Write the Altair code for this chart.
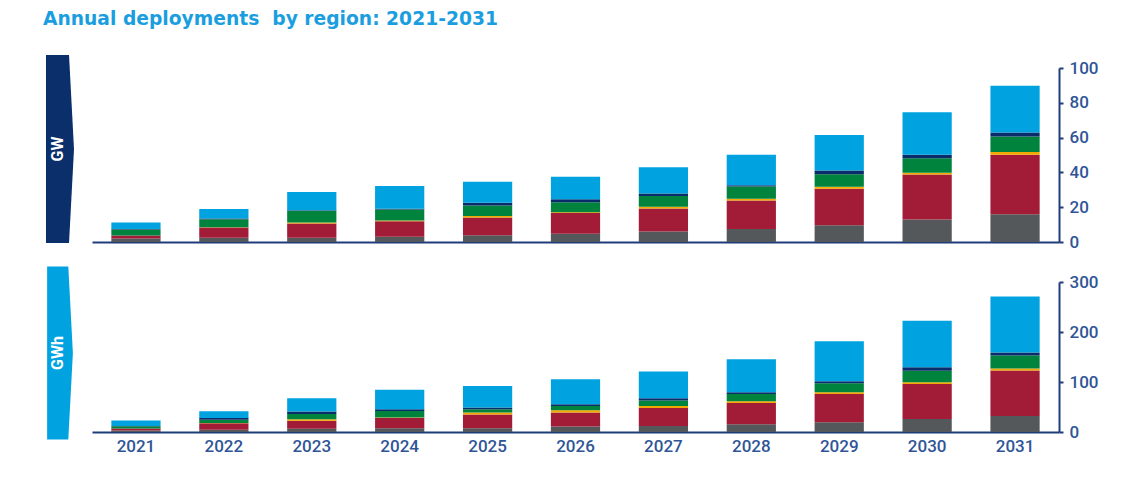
import altair as alt
import pandas as pd

years = [str(y) for y in range(2021, 2032)]
segments = ["Segment 1", "Segment 2", "Segment 3", "Segment 4", "Segment 5", "Segment 6"]
colors = ["#54585a", "#a21c37", "#f2a900", "#00843d", "#0b2c6b", "#00a3e0"]

# GW (bottom to top)
gw_grey = [2.0, 2.5, 2.5, 3.0, 3.9, 4.8, 6.0, 7.5, 9.6, 12.9, 15.9]
gw_red = [1.7, 5.8, 8.1, 8.9, 10.2, 11.9, 13.2, 16.3, 21.0, 25.9, 34.3]
gw_yellow = [0.1, 0.2, 0.6, 0.4, 0.9, 0.4, 1.0, 1.0, 1.1, 1.0, 1.5]
gw_green = [3.4, 4.6, 6.7, 6.4, 6.0, 5.8, 6.2, 7.1, 7.3, 8.4, 9.0]
gw_navy = [0.2, 0.4, 0.4, 0.4, 1.5, 1.6, 1.5, 0.7, 2.1, 2.0, 2.3]
gw_blue = [3.8, 5.4, 10.5, 13.1, 12.1, 13.0, 15.0, 17.6, 20.4, 24.4, 26.8]

# GWh (bottom to top)
gwh_grey = [3.0, 4.6, 6.6, 7.4, 7.4, 10.8, 12.0, 15.4, 19.4, 26.0, 32.0]
gwh_red = [4.0, 13.0, 16.0, 20.8, 27.4, 28.0, 36.0, 42.6, 56.6, 70.0, 91.0]
gwh_yellow = [0.2, 0.4, 3.0, 0.6, 4.0, 4.6, 4.0, 3.4, 3.4, 3.4, 4.0]
gwh_green = [4.5, 6.6, 10.6, 13.2, 6.6, 8.6, 10.8, 14.6, 18.0, 23.2, 26.0]
gwh_navy = [0.5, 3.4, 4.7, 3.4, 3.4, 3.4, 4.6, 3.4, 4.0, 6.8, 6.0]
gwh_blue = [11.0, 13.3, 26.7, 39.0, 43.2, 50.0, 53.4, 66.0, 80.0, 93.2, 112.0]

gw_ticks = [0, 20, 40, 60, 80, 100]
gwh_ticks = [0, 100, 200, 300]

AXIS_COLOR = "#1f3d7a"
LABEL_COLOR = "#2f5597"
FONT = "Roboto"


def long_df(series):
    rows = []
    for idx, (seg, vals) in enumerate(zip(segments, series)):
        for yr, v in zip(years, vals):
            rows.append({"year": yr, "segment": seg, "idx": idx, "value": v})
    return pd.DataFrame(rows)


gw_df = long_df([gw_grey, gw_red, gw_yellow, gw_green, gw_navy, gw_blue])
gwh_df = long_df([gwh_grey, gwh_red, gwh_yellow, gwh_green, gwh_navy, gwh_blue])

TAG_PATH = "M-0.149,-1 L0.096,-1 L0.149,0 L0.096,1 L-0.149,1 Z"


def panel(df, ymax, ticks, height, tag_text, tag_color, tag_len, tag_cy, show_labels):
    bars = alt.Chart(df).mark_bar(stroke=None).encode(
        x=alt.X(
            "year:N",
            sort=years,
            scale=alt.Scale(paddingInner=0.44, paddingOuter=0.22),
            axis=alt.Axis(
                title=None,
                labels=show_labels,
                ticks=False,
                domain=True,
                domainColor=AXIS_COLOR,
                domainWidth=2,
                labelFont=FONT,
                labelFontSize=17,
                labelFontWeight=500,
                labelColor=LABEL_COLOR,
                labelPadding=6,
                labelAngle=0,
            ),
        ),
        y=alt.Y(
            "value:Q",
            stack="zero",
            scale=alt.Scale(domain=[0, ymax], nice=False),
            axis=alt.Axis(
                orient="right",
                title=None,
                values=ticks,
                grid=False,
                domainColor=AXIS_COLOR,
                domainWidth=2,
                tickColor=AXIS_COLOR,
                tickWidth=2,
                tickSize=4,
                labelFont=FONT,
                labelFontSize=17,
                labelFontWeight=500,
                labelColor=LABEL_COLOR,
                labelPadding=6,
            ),
        ),
        color=alt.Color(
            "segment:N",
            scale=alt.Scale(domain=segments, range=colors),
            legend=None,
        ),
        order=alt.Order("idx:Q", sort="ascending"),
    )
    tag_df = pd.DataFrame({"t": [tag_text]})
    tag = alt.Chart(tag_df).mark_point(
        shape=TAG_PATH, filled=True, opacity=1, strokeWidth=0,
        size=tag_len * tag_len, color=tag_color,
    ).encode(x=alt.value(-32), y=alt.value(tag_cy))
    label = alt.Chart(tag_df).mark_text(
        angle=270, color="white", font=FONT, fontSize=16, fontWeight="bold",
        align="center", baseline="middle",
    ).encode(x=alt.value(-34), y=alt.value(tag_cy), text="t:N")
    return alt.layer(bars, tag, label).properties(width=967, height=height)


top = panel(gw_df, 100, gw_ticks, 174, "GW", "#0b2f6b", 188, 81, False)
bottom = panel(gwh_df, 300, gwh_ticks, 150, "GWh", "#00a3e0", 173, 71, True)

chart = alt.vconcat(top, bottom, spacing=16).properties(
    title=alt.TitleParams(
        "Annual deployments\u00a0 by region: 2021-2031",
        anchor="start",
        font="DejaVu Sans",
        fontSize=18.7,
        fontWeight="bold",
        color="#1a9ee0",
        offset=26,
        dx=-3,
    ),
    padding={"left": 34, "top": 2, "right": 5, "bottom": 5},
).configure_view(stroke=None)

chart.save("out.html", embed_options={"renderer": "svg", "actions": False})
